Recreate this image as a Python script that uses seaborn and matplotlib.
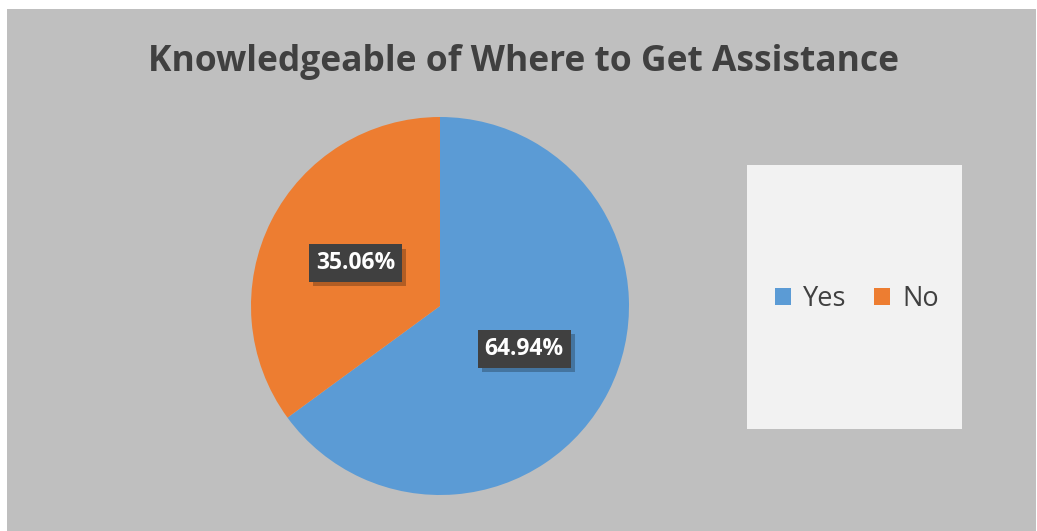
import matplotlib
matplotlib.use("Agg")
import matplotlib.pyplot as plt
import matplotlib.patheffects as pe
from matplotlib.patches import Rectangle, Patch
import seaborn as sns

sns.set_theme(style="white")
plt.rcParams["font.family"] = ["Open Sans", "DejaVu Sans"]

title = "Knowledgeable of Where to Get Assistance"
categories = ["Yes", "No"]
shares = [64.94, 35.06]
colors = ["#5b9bd5", "#ed7d31"]

W, H = 1037, 531
fig = plt.figure(figsize=(W / 100, H / 100), dpi=100, facecolor="white")

# chart area background
fig.patches.append(Rectangle((7 / W, 0), (W - 8) / W, (H - 9) / H,
                             transform=fig.transFigure, facecolor="#bfbfbf",
                             edgecolor="none", zorder=-2))

# legend panel
fig.patches.append(Rectangle((747 / W, (H - 429) / H), 215 / W, 264 / H,
                             transform=fig.transFigure, facecolor="#f2f2f2",
                             edgecolor="none", zorder=-1))

fig.text(524 / W, (H - 62) / H, title, ha="center", va="center",
         fontsize=25.5, fontweight="bold", color="#404040")

cx, cy, r = 440, 306, 189
ax = fig.add_axes([(cx - r) / W, (H - cy - r) / H, 2 * r / W, 2 * r / H])
ax.set_zorder(2)
ax.patch.set_alpha(0)
ax.set_axis_off()

wedges, texts, autotexts = ax.pie(
    shares, colors=colors, startangle=90, counterclock=False,
    autopct=lambda p: f"{p:.2f}%", pctdistance=0.5,
    wedgeprops=dict(linewidth=0),
    textprops=dict(color="white", fontsize=16.5, fontweight="bold"),
)
ax.set_xlim(-1, 1)
ax.set_ylim(-1, 1)

for t in autotexts:
    t.set_bbox(dict(boxstyle="square,pad=0.3", facecolor="#404040",
                    edgecolor="none"))
    t.get_bbox_patch().set_path_effects([
        pe.SimplePatchShadow(offset=(3, -3), shadow_rgbFace="black", alpha=0.25),
        pe.Normal(),
    ])

handles = [Patch(facecolor=c, edgecolor="none") for c in colors]
leg = fig.legend(handles, categories, loc="center",
                 bbox_to_anchor=(857 / W, (H - 299) / H), ncol=2,
                 frameon=False, fontsize=19.5, handlelength=0.6,
                 handleheight=0.6, handletextpad=0.45, columnspacing=1.0)
leg.set_zorder(3)
for txt in leg.get_texts():
    txt.set_color("#404040")

fig.savefig("out.png", dpi=100, facecolor=fig.get_facecolor())
